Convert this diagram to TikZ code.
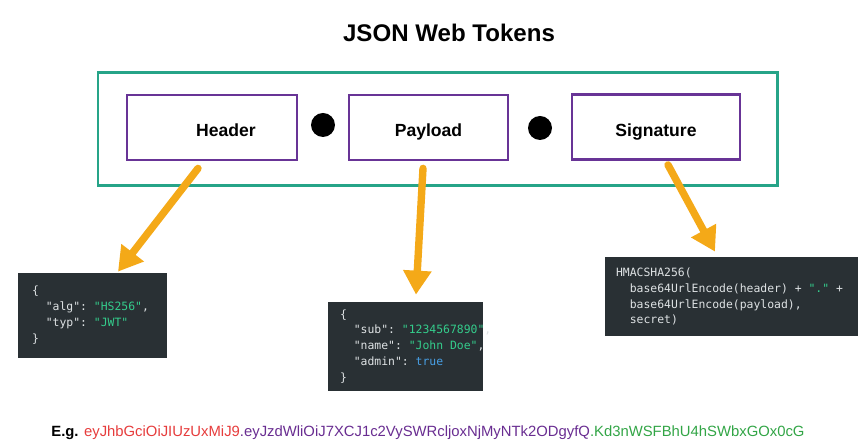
\documentclass[tikz,border=0pt]{standalone}
\usepackage{fontspec}
\setmainfont{Liberation Sans}
\setmonofont{DejaVu Sans Mono}
\usetikzlibrary{arrows.meta,calc}

\definecolor{jwtteal}{RGB}{38,164,136}
\definecolor{jwtpurple}{RGB}{104,52,150}
\definecolor{jwtorange}{RGB}{244,169,24}
\definecolor{codebg}{RGB}{41,48,52}
\definecolor{codetxt}{RGB}{222,226,228}
\definecolor{codestr}{RGB}{52,205,140}
\definecolor{codekw}{RGB}{72,160,230}
\definecolor{tokred}{RGB}{230,60,60}
\definecolor{tokpurple}{RGB}{105,45,145}
\definecolor{tokgreen}{RGB}{50,165,70}

\newcommand{\str}[1]{\textcolor{codestr}{#1}}
\newcommand{\csp}{\hphantom{x}}
\newcommand{\ind}{\hphantom{xx}}

\tikzset{
	partbox/.style={draw=jwtpurple, line width=1.6pt, fill=white, minimum height=1.3cm,
		text height=10.5pt, text depth=0pt, font=\fontsize{10}{12}\selectfont\bfseries},
	codebox/.style={fill=codebg, text=codetxt, align=left, font=\fontsize{6.5}{9.07}\selectfont\ttfamily},
	tokarrow/.style={jwtorange, line width=4.2pt, line cap=round, -{Triangle[length=0.48cm,width=0.54cm]}},
	sepdot/.style={circle, fill=black, minimum size=0.48cm, inner sep=0pt}
}

\begin{document}
\begin{tikzpicture}[x=0.02cm,y=-0.02cm]
	\useasboundingbox (0,0) rectangle (866,448);
	%\draw [help lines, step=50] (0,0) grid (866,448);
	\node[font=\fontsize{13.7}{16}\selectfont\bfseries] (title) at (449,33) {JSON Web Tokens};
	% Token
	\draw [jwtteal, line width=1.7pt] (98,73) rectangle (777,186);
	\node[partbox, minimum width=3.4cm] (hdr) at (212,127.5) {\hspace{0.56cm}Header};
	\node[sepdot] (dot1) at (323,125) {};
	\node[partbox, minimum width=3.18cm] (pld) at (428.5,127.5) {Payload};
	\node[sepdot] (dot2) at (540,128) {};
	\node[partbox, minimum width=3.36cm] (sig) at (656,127) {Signature};
	
	% Parti decodificate
	\node[codebox, minimum height=1.7cm, text width=2.42cm, inner xsep=0.28cm] (hcode) at (92.5,315.5)
		{\{\\
		\ind"alg":\csp\str{"HS256"},\\
		\ind"typ":\csp\str{"JWT"}\\
		\}};
	\node[codebox, minimum height=1.78cm, text width=2.62cm, inner xsep=0.24cm] (pcode) at (405.5,346.5)
		{\{\\
		\ind"sub":\csp\str{"1234567890"},\\
		\ind"name":\csp\str{"John\csp Doe"},\\
		\ind"admin":\csp\textcolor{codekw}{true}\\
		\}};
	\node[codebox, minimum height=1.58cm, text width=4.62cm, inner xsep=0.22cm] (scode) at (731.5,296.5)
		{HMACSHA256(\\
		\ind base64UrlEncode(header)\csp+\csp\str{"."}\csp+\\
		\ind base64UrlEncode(payload),\\
		\ind secret)};
	
	% Frecce
	\draw [tokarrow] ($(hdr.south)+(-14,7)$) -- ($(hcode.north)+(25.5,-1)$);
	\draw [tokarrow] ($(pld.south)+(-5.5,7)$) -- ($(pcode.north)+(10.5,-7)$);
	\draw [tokarrow] ($(sig.south)+(12,4)$) -- ($(scode.north)+(-16.5,-5)$);
	
	% Esempio
	\node[anchor=base west, inner xsep=0pt, font=\fontsize{8.45}{10}\selectfont] (eg) at (51,437)
		{\textbf{E.g.} \textcolor{tokred}{eyJhbGciOiJIUzUxMiJ9}\textcolor{tokpurple}{.eyJzdWliOiJ7XCJ1c2VySWRcljoxNjMyNTk2ODgyfQ}\textcolor{tokgreen}{.Kd3nWSFBhU4hSWbxGOx0cG}};
\end{tikzpicture}
\end{document}
